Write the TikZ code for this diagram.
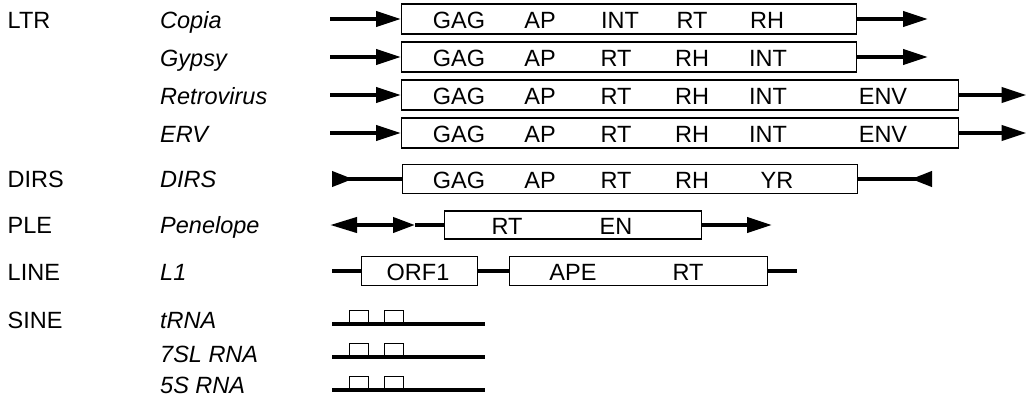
\documentclass[tikz,border=0pt]{standalone}
\usepackage{fontspec}
\setmainfont{Liberation Sans}
\usetikzlibrary{arrows.meta}
\begin{document}
\begin{tikzpicture}[x=1pt,y=-1pt,
  >={Triangle[length=25pt,width=15pt]},
  gene/.style={draw, line width=1.4pt, inner sep=0pt, minimum height=30pt, anchor=west},
  shaft/.style={line width=4pt},
  lbl/.style={anchor=base, inner sep=0pt, font=\fontsize{23.5}{23.5}\selectfont},
  cat/.style={anchor=base west, inner sep=0pt, font=\fontsize{23.5}{23.5}\selectfont},
  nm/.style={anchor=base west, inner sep=0pt, font=\fontsize{23.5}{23.5}\selectfont\itshape},
  smallbox/.style={draw, line width=1.3pt, inner sep=0pt, minimum width=19pt, minimum height=13pt, anchor=south west}
]
\useasboundingbox (0,0) rectangle (1027,399);

% left labels
\node[cat] (cLTR) at (7.5,28.5) {LTR};
\node[cat] (cDIRS) at (7.5,187.5) {DIRS};
\node[cat] (cPLE) at (7.5,233.5) {PLE};
\node[cat] (cLINE) at (7.5,280.5) {LINE};
\node[cat] (cSINE) at (7.5,328.5) {SINE};
\node[nm] (nCopia) at (160,28.5) {Copia};
\node[nm] (nGypsy) at (160,66.5) {Gypsy};
\node[nm] (nRetro) at (160,104) {Retrovirus};
\node[nm] (nERV) at (160,142) {ERV};
\node[nm] (nDIRS) at (160,187.5) {DIRS};
\node[nm] (nPen) at (160,233.5) {Penelope};
\node[nm] (nL1) at (160,280.5) {L1};
\node[nm] (ntRNA) at (160,328.5) {tRNA};
\node[nm] (n7SL) at (160,362) {7SL RNA};
\node[nm] (n5S) at (160,393.5) {5S RNA};

% Copia
\node[gene, minimum width=455pt] (copia) at (401,19) {};
\coordinate (copiaL) at (330,19);
\coordinate (copiaR) at (928,19);
\draw[shaft,->] (copiaL) -- (copia.west);
\draw[shaft,->] (copia.east) -- (copiaR);
\node[lbl] (cp1) at (459,28.5) {GAG};
\node[lbl] (cp2) at (540,28.5) {AP};
\node[lbl] (cp3) at (620,28.5) {INT};
\node[lbl] (cp4) at (692,28.5) {RT};
\node[lbl] (cp5) at (767,28.5) {RH};

% Gypsy
\node[gene, minimum width=455pt] (gypsy) at (401,57) {};
\coordinate (gypsyL) at (330,57);
\coordinate (gypsyR) at (928,57);
\draw[shaft,->] (gypsyL) -- (gypsy.west);
\draw[shaft,->] (gypsy.east) -- (gypsyR);
\node[lbl] (gy1) at (459,66.5) {GAG};
\node[lbl] (gy2) at (540,66.5) {AP};
\node[lbl] (gy3) at (616,66.5) {RT};
\node[lbl] (gy4) at (692,66.5) {RH};
\node[lbl] (gy5) at (768,66.5) {INT};

% Retrovirus
\node[gene, minimum width=557pt] (retro) at (401,95) {};
\coordinate (retroL) at (330,95);
\coordinate (retroR) at (1026.5,95);
\draw[shaft,->] (retroL) -- (retro.west);
\draw[shaft,->] (retro.east) -- (retroR);
\node[lbl] (rv1) at (459,104.5) {GAG};
\node[lbl] (rv2) at (540,104.5) {AP};
\node[lbl] (rv3) at (616,104.5) {RT};
\node[lbl] (rv4) at (692,104.5) {RH};
\node[lbl] (rv5) at (768,104.5) {INT};
\node[lbl] (rv6) at (883,104.5) {ENV};

% ERV
\node[gene, minimum width=557pt] (erv) at (401,133) {};
\coordinate (ervL) at (330,133);
\coordinate (ervR) at (1026.5,133);
\draw[shaft,->] (ervL) -- (erv.west);
\draw[shaft,->] (erv.east) -- (ervR);
\node[lbl] (ev1) at (459,142.5) {GAG};
\node[lbl] (ev2) at (540,142.5) {AP};
\node[lbl] (ev3) at (616,142.5) {RT};
\node[lbl] (ev4) at (692,142.5) {RH};
\node[lbl] (ev5) at (768,142.5) {INT};
\node[lbl] (ev6) at (883,142.5) {ENV};

% DIRS
\node[gene, minimum width=455pt, minimum height=29pt] (dirs) at (402,179) {};
\coordinate (dirsL) at (332,179);
\coordinate (dirsR) at (932,179);
\draw[shaft,{Triangle[length=21pt,width=15pt,reversed]}-] (dirsL) -- (dirs.west);
\draw[shaft,-{Triangle[length=21pt,width=15pt,reversed]}] (dirs.east) -- (dirsR);
\node[lbl] (ds1) at (459,188.5) {GAG};
\node[lbl] (ds2) at (540,188.5) {AP};
\node[lbl] (ds3) at (616,188.5) {RT};
\node[lbl] (ds4) at (692,188.5) {RH};
\node[lbl] (ds5) at (777,188.5) {YR};

% Penelope
\node[gene, minimum width=257pt, minimum height=28pt] (pen) at (444,225) {};
\coordinate (penL) at (330,225);
\coordinate (penM) at (415,225);
\coordinate (penR) at (772,225);
\draw[shaft,{Triangle[length=27pt,width=15pt]}-{Triangle[length=22pt,width=15pt]}] (penL) -- (penM);
\draw[shaft] (penM) -- (pen.west);
\draw[shaft,->] (pen.east) -- (penR);
\node[lbl] (pe1) at (507,234.5) {RT};
\node[lbl] (pe2) at (616,234.5) {EN};

% L1
\node[gene, minimum width=116pt, minimum height=29pt] (orf1) at (361,271) {};
\node[gene, minimum width=258pt, minimum height=29pt] (orf2) at (509,271) {};
\coordinate (l1L) at (332,271);
\coordinate (l1R) at (797,271);
\draw[shaft] (l1L) -- (orf1.west);
\draw[shaft] (orf1.east) -- (orf2.west);
\draw[shaft] (orf2.east) -- (l1R);
\node[lbl] (o1) at (418,280.5) {ORF1};
\node[lbl] (o2) at (573,280.5) {APE};
\node[lbl] (o3) at (688,280.5) {RT};

% SINE
\foreach \yy/\nn in {324/a,357/b,390/c}{
  \node[smallbox] (s\nn1) at (349,\yy) {};
  \node[smallbox] (s\nn2) at (384,\yy) {};
  \coordinate (s\nn L) at (332,\yy);
  \coordinate (s\nn R) at (485,\yy);
  \draw[shaft] (s\nn L) -- (s\nn R);
}
\end{tikzpicture}
\end{document}
